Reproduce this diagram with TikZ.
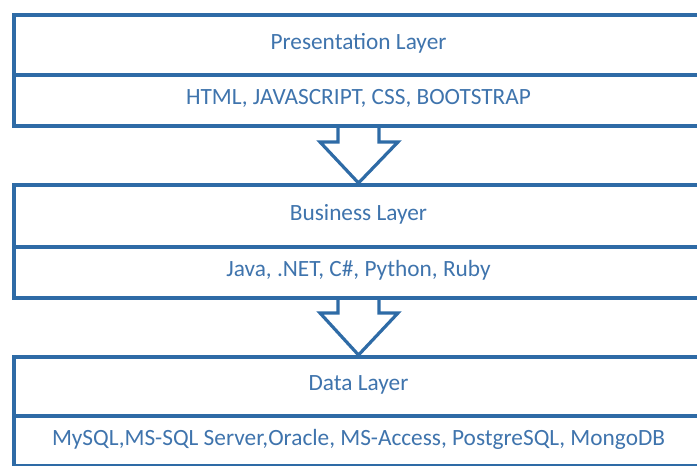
\documentclass[tikz,border=0pt]{standalone}
\usepackage{fontspec}
\setmainfont{Carlito}
\definecolor{lineblue}{HTML}{2E6BA6}
\definecolor{textblue}{HTML}{3F74AD}
\begin{document}
\begin{tikzpicture}[x=1pt,y=-1pt,
  cell/.style={draw=lineblue,line width=4pt,fill=white,rectangle,anchor=north west,
    minimum width=700pt,inner sep=0pt},
  label/.style={text=textblue,font=\fontsize{23.3}{26}\selectfont,inner sep=0pt},
  bigarrow/.style={draw=lineblue,line width=3.2pt,fill=white,line join=miter}]
\useasboundingbox (0,0) rectangle (697,466);
\clip (0,0) rectangle (697,466);
% arrows first (box lines overlap their tops and tips)
\draw[bigarrow] (338,124) -- (338,142) -- (320,142) -- (358.5,183) -- (398,142) -- (379,142) -- (379,124);
\draw[bigarrow] (338,296) -- (338,313) -- (320,313) -- (358.5,355) -- (398,313) -- (379,313) -- (379,296);
% layer 1
\node[cell,minimum height=60pt] (p1) at (12,13) {};
\node[cell,minimum height=51pt] (p2) at (12,73) {};
\node[label] (p1t) at (358.5,43) {Presentation Layer};
\node[label] (p2t) at (358.5,98.5) {HTML, JAVASCRIPT, CSS, BOOTSTRAP};
% layer 2
\node[cell,minimum height=62pt] (b1) at (12,183) {};
\node[cell,minimum height=51pt] (b2) at (12,245) {};
\node[label] (b1t) at (358.5,214) {Business Layer};
\node[label] (b2t) at (358.5,270.5) {Java, .NET, C\#, Python, Ruby};
% layer 3
\node[cell,minimum height=59pt] (d1) at (12,355) {};
\node[cell,minimum height=50pt] (d2) at (12,414) {};
\node[label] (d1t) at (358.5,384.5) {Data Layer};
\node[label] (d2t) at (358.5,439) {MySQL,MS-SQL Server,Oracle, MS-Access, PostgreSQL, MongoDB};
\end{tikzpicture}
\end{document}
